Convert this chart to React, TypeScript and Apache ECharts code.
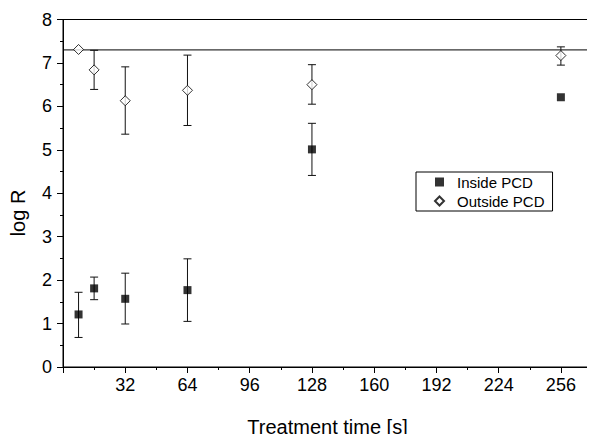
import React, { useEffect, useRef } from "react";
import * as echarts from "echarts";

const times = [8, 16, 32, 64, 128, 256];
const insideMean = [1.21, 1.81, 1.57, 1.77, 5.01, 6.21];
const insideLow = [0.68, 1.55, 0.99, 1.05, 4.41, null];
const insideHigh = [1.72, 2.07, 2.16, 2.49, 5.61, null];
const outsideMean = [7.31, 6.84, 6.13, 6.37, 6.5, 7.17];
const outsideLow = [null, 6.39, 5.36, 5.56, 6.05, 6.95];
const outsideHigh = [null, 7.29, 6.91, 7.18, 6.96, 7.37];
const referenceX = [0, 272];
const referenceLevel = [7.3, 7.3];
const xTickLabels = [32, 64, 96, 128, 160, 192, 224, 256];

const FONT = "'Liberation Sans', Arial, sans-serif";

function errData(low: (number | null)[], high: (number | null)[]) {
  const out: number[][] = [];
  times.forEach((t, i) => {
    const l = low[i];
    const h = high[i];
    if (l != null && h != null) out.push([t, l, h]);
  });
  return out;
}

function renderErr(params: any, api: any) {
  const x = api.value(0);
  const lo = api.coord([x, api.value(1)]);
  const hi = api.coord([x, api.value(2)]);
  const cap = 4;
  const style = { stroke: "#111", lineWidth: 1 };
  return {
    type: "group",
    children: [
      { type: "line", shape: { x1: lo[0], y1: lo[1], x2: hi[0], y2: hi[1] }, style },
      { type: "line", shape: { x1: lo[0] - cap, y1: lo[1], x2: lo[0] + cap, y2: lo[1] }, style },
      { type: "line", shape: { x1: hi[0] - cap, y1: hi[1], x2: hi[0] + cap, y2: hi[1] }, style },
    ],
  };
}

export default function App() {
  const ref = useRef<HTMLDivElement>(null);
  useEffect(() => {
    if (!ref.current) return;
    const chart = echarts.init(ref.current, undefined, { renderer: "svg" });
    chart.setOption({
      animation: false,
      backgroundColor: "#fff",
      textStyle: { fontFamily: FONT },
      grid: {
        left: 63,
        top: 19.5,
        width: 547,
        height: 362.5,
        show: true,
        borderColor: "#000",
        borderWidth: 1,
        backgroundColor: "transparent",
      },
      legend: {
        orient: "vertical",
        left: 416,
        top: 172,
        padding: [2, 8, 2, 18],
        itemGap: 3,
        itemWidth: 9,
        itemHeight: 9,
        borderColor: "#000",
        borderWidth: 1,
        textStyle: {
          fontSize: 15,
          color: "#000",
          fontFamily: FONT,
          lineHeight: 16,
          padding: [0, 0, 0, 8],
        },
        data: [
          { name: "Inside PCD", icon: "rect" },
          { name: "Outside PCD", icon: "diamond" },
        ],
      },
      xAxis: {
        type: "value",
        min: 0,
        max: 272,
        interval: 32,
        name: "Treatment time [s]",
        nameLocation: "middle",
        nameGap: 50,
        nameTextStyle: { fontSize: 20, color: "#000", fontFamily: FONT },
        axisLine: { lineStyle: { color: "#000", width: 1 } },
        axisTick: { show: true, inside: false, length: 6, lineStyle: { color: "#000" } },
        minorTick: { show: true, splitNumber: 2, length: 3, lineStyle: { color: "#000" } },
        splitLine: { show: false },
        axisLabel: {
          fontSize: 18,
          color: "#000",
          margin: 9,
          fontFamily: FONT,
          formatter: (v: number) => (xTickLabels.includes(v) ? String(v) : ""),
        },
      },
      yAxis: {
        type: "value",
        min: 0,
        max: 8,
        interval: 1,
        axisLine: { show: true, lineStyle: { color: "#000", width: 1 } },
        axisTick: { show: true, inside: false, length: 6, lineStyle: { color: "#000" } },
        minorTick: { show: true, splitNumber: 2, length: 3, lineStyle: { color: "#000" } },
        splitLine: { show: false },
        axisLabel: { fontSize: 18, color: "#000", margin: 11, fontFamily: FONT },
      },
      graphic: [
        {
          type: "text",
          x: 18,
          y: 213,
          rotation: Math.PI / 2,
          style: {
            text: "log R",
            fontSize: 20,
            fill: "#000",
            fontFamily: FONT,
            align: "center",
            verticalAlign: "middle",
          },
        },
      ],
      series: [
        {
          type: "line",
          name: "reference",
          data: referenceX.map((x, i) => [x, referenceLevel[i]]),
          symbol: "none",
          lineStyle: { color: "#000", width: 1 },
          silent: true,
          z: 1,
        },
        {
          type: "custom",
          name: "errInside",
          renderItem: renderErr,
          data: errData(insideLow, insideHigh),
          z: 2,
          silent: true,
        },
        {
          type: "custom",
          name: "errOutside",
          renderItem: renderErr,
          data: errData(outsideLow, outsideHigh),
          z: 2,
          silent: true,
        },
        {
          type: "scatter",
          name: "Inside PCD",
          symbol: "rect",
          symbolSize: 8,
          itemStyle: { color: "#000" },
          data: times.map((t, i) => [t, insideMean[i]]),
          z: 3,
        },
        {
          type: "scatter",
          name: "Outside PCD",
          symbol: "diamond",
          symbolSize: 10,
          itemStyle: { color: "#fff", borderColor: "#000", borderWidth: 1 },
          data: times.map((t, i) => [t, outsideMean[i]]),
          z: 3,
        },
      ],
    });
    return () => chart.dispose();
  }, []);
  return <div ref={ref} style={{ width: 595, height: 442, margin: -8 }} />;
}
